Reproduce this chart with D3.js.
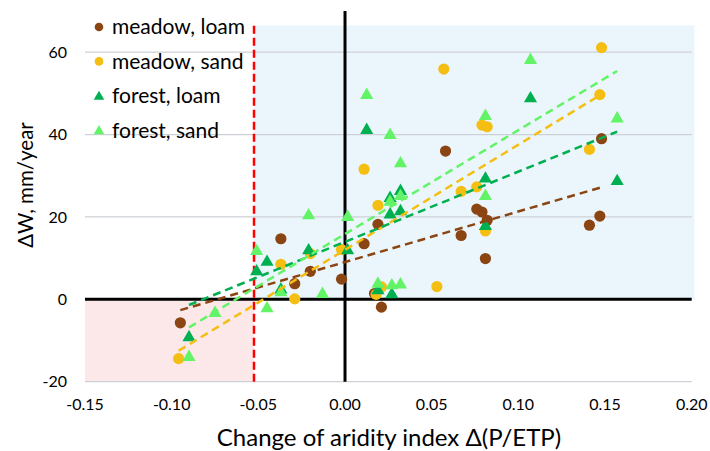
<!DOCTYPE html>
<html>
<head>
<meta charset="utf-8">
<script src="https://cdn.jsdelivr.net/npm/d3@7"></script>
<style>
	body { margin: 0; background: #fff; }
	text { font-family: Lato, "Open Sans", sans-serif; fill: #000; }
</style>
</head>
<body>
<svg id="chart" width="710" height="451"></svg>
<script>
/*global d3*/

// series
var meadowLoamX = [-0.095, -0.037, -0.020, -0.029, -0.002, 0.019, 0.011, 0.058, 0.067, 0.021, 0.017, 0.076, 0.079, 0.082, 0.081, 0.148, 0.147, 0.141];
var meadowLoamY = [-5.7, 14.7, 6.8, 3.8, 4.9, 18.2, 13.5, 36.0, 15.5, -1.9, 1.4, 21.9, 21.2, 19.2, 9.9, 39.0, 20.2, 18.0];

var meadowSandX = [-0.096, -0.037, -0.029, -0.020, -0.002, 0.011, 0.019, 0.018, 0.021, 0.053, 0.057, 0.067, 0.076, 0.079, 0.082, 0.081, 0.148, 0.147, 0.141];
var meadowSandY = [-14.4, 8.5, 0.1, 11.1, 12.1, 31.6, 22.8, 1.2, 3.0, 3.1, 55.9, 26.2, 27.3, 42.3, 41.9, 16.6, 61.1, 49.7, 36.4];

var forestLoamX = [-0.090, -0.051, -0.045, -0.037, -0.021, 0.0015, 0.026, 0.032, 0.026, 0.032, 0.0125, 0.019, 0.027, 0.107, 0.081, 0.081, 0.157];
var forestLoamY = [-9.0, 7.0, 9.3, 2.6, 12.1, 12.1, 20.8, 21.6, 24.8, 26.5, 41.3, 2.4, 1.4, 49.0, 29.5, 18.0, 28.9];

var forestSandX = [-0.090, -0.075, -0.051, -0.045, -0.037, -0.021, -0.013, 0.0015, 0.0125, 0.026, 0.032, 0.026, 0.032, 0.019, 0.027, 0.032, 0.107, 0.081, 0.081, 0.157];
var forestSandY = [-13.8, -3.1, 11.9, -2.0, 1.9, 20.6, 1.5, 20.2, 49.8, 40.1, 33.2, 23.9, 25.3, 4.0, 3.6, 3.8, 58.3, 44.7, 25.3, 44.1];

var seriesNames = ["meadow, loam", "meadow, sand", "forest, loam", "forest, sand"];
var seriesColors = ["#8B4513", "#F5BE12", "#00B050", "#62F466"];
var seriesShapes = ["circle", "circle", "triangle", "triangle"];

var xTicks = [-0.15, -0.10, -0.05, 0, 0.05, 0.10, 0.15, 0.20];
var xTickLabels = ["-0.15", "-0.10", "-0.05", "0.00", "0.05", "0.10", "0.15", "0.20"];
var yTicks = [-20, 0, 20, 40, 60];
var yTickLabels = ["-20", "0", "20", "40", "60"];

// shaded zones and the threshold line
var wetZoneX = [-0.0525, 0.2015], wetZoneY = [0, 66.5];
var dryZoneX = [-0.15, -0.0525], dryZoneY = [-20, 0];
var thresholdX = -0.0525, thresholdY = [-20, 66.5];

var svg = d3.select("#chart");

var x = d3.scaleLinear()
	.domain([-0.15, 0.20])
	.range([85, 691.7]);

var y = d3.scaleLinear()
	.domain([-20, 70])
	.range([381.7, 11]);

// background zones
svg.append("rect")
	.attr("x", x(wetZoneX[0]))
	.attr("y", y(wetZoneY[1]))
	.attr("width", x(wetZoneX[1]) - x(wetZoneX[0]))
	.attr("height", y(wetZoneY[0]) - y(wetZoneY[1]))
	.attr("fill", "#EBF6FC");

svg.append("rect")
	.attr("x", x(dryZoneX[0]))
	.attr("y", y(dryZoneY[1]))
	.attr("width", x(dryZoneX[1]) - x(dryZoneX[0]))
	.attr("height", y(dryZoneY[0]) - y(dryZoneY[1]))
	.attr("fill", "#FCE8E8");

// gridlines
svg.append("g")
	.selectAll("line")
	.data(yTicks.filter(d => d !== 0))
	.join("line")
	.attr("x1", x(-0.15))
	.attr("x2", x(0.20))
	.attr("y1", d => y(d))
	.attr("y2", d => y(d))
	.attr("stroke", "#CDD1D6")
	.attr("stroke-width", 1.3);

// tick labels
svg.append("g")
	.selectAll("text")
	.data(yTicks)
	.join("text")
	.attr("x", 67)
	.attr("y", d => y(d))
	.attr("dy", "0.35em")
	.attr("text-anchor", "end")
	.style("font-size", "16px")
	.text((d, i) => yTickLabels[i]);

svg.append("g")
	.selectAll("text")
	.data(xTicks)
	.join("text")
	.attr("x", d => x(d))
	.attr("y", 410)
	.attr("text-anchor", "middle")
	.style("font-size", "16px")
	.text((d, i) => xTickLabels[i]);

// black zero axes
svg.append("line")
	.attr("x1", x(-0.15)).attr("x2", x(0.20))
	.attr("y1", y(0)).attr("y2", y(0))
	.attr("stroke", "#000").attr("stroke-width", 3);

svg.append("line")
	.attr("x1", x(0)).attr("x2", x(0))
	.attr("y1", y(-20)).attr("y2", y(70))
	.attr("stroke", "#000").attr("stroke-width", 3);

// red threshold
svg.append("line")
	.attr("x1", x(thresholdX)).attr("x2", x(thresholdX))
	.attr("y1", y(thresholdY[0])).attr("y2", y(thresholdY[1]))
	.attr("stroke", "#FF0000")
	.attr("stroke-width", 2.5)
	.attr("stroke-dasharray", "8,4");

var allX = [meadowLoamX, meadowSandX, forestLoamX, forestSandX];
var allY = [meadowLoamY, meadowSandY, forestLoamY, forestSandY];

var tri = d3.symbol().type(d3.symbolTriangle).size(75);

allX.forEach(function(xs, s) {
	var pts = xs.map((v, i) => [v, allY[s][i]]);
	var g = svg.append("g");
	if (seriesShapes[s] === "circle") {
		g.selectAll("circle")
			.data(pts)
			.join("circle")
			.attr("cx", d => x(d[0]))
			.attr("cy", d => y(d[1]))
			.attr("r", 5.6)
			.attr("fill", seriesColors[s]);
	} else {
		g.selectAll("path")
			.data(pts)
			.join("path")
			.attr("d", tri)
			.attr("transform", d => "translate(" + x(d[0]) + "," + (y(d[1]) + 1) + ")")
			.attr("fill", seriesColors[s]);
	}
});

// linear trendlines (least squares, like excel)
allX.forEach(function(xs, s) {
	var ys = allY[s];
	var mx = d3.mean(xs), my = d3.mean(ys);
	var sxy = d3.sum(xs, (v, i) => (v - mx) * (ys[i] - my));
	var sxx = d3.sum(xs, v => (v - mx) * (v - mx));
	var k = sxy / sxx, b = my - k * mx;
	var ext = d3.extent(xs);
	svg.append("line")
		.attr("x1", x(ext[0])).attr("y1", y(k * ext[0] + b))
		.attr("x2", x(ext[1])).attr("y2", y(k * ext[1] + b))
		.attr("stroke", seriesColors[s])
		.attr("stroke-width", 2.5)
		.attr("stroke-dasharray", "8,5");
});

// legend
var legend = svg.append("g")
	.selectAll("g")
	.data(seriesNames)
	.join("g")
	.attr("transform", (d, i) => "translate(99," + (27 + i * 34.4) + ")");

legend.each(function(d, i) {
	var el = d3.select(this);
	if (seriesShapes[i] === "circle") {
		el.append("circle").attr("r", 4.3).attr("fill", seriesColors[i]);
	} else {
		el.append("path")
			.attr("d", d3.symbol().type(d3.symbolTriangle).size(48))
			.attr("transform", "translate(0,1)")
			.attr("fill", seriesColors[i]);
	}
	el.append("text")
		.attr("x", 13)
		.attr("dy", "0.35em")
		.style("font-size", "21px")
		.text(d);
});

// axis titles
svg.append("text")
	.attr("x", 389)
	.attr("y", 446)
	.attr("text-anchor", "middle")
	.style("font-size", "24px")
	.text("Change of aridity index Δ(P/ETP)");

svg.append("text")
	.attr("transform", "translate(33,185) rotate(-90)")
	.attr("text-anchor", "middle")
	.style("font-size", "20.5px")
	.text("ΔW, mm/year");
</script>
</body>
</html>
